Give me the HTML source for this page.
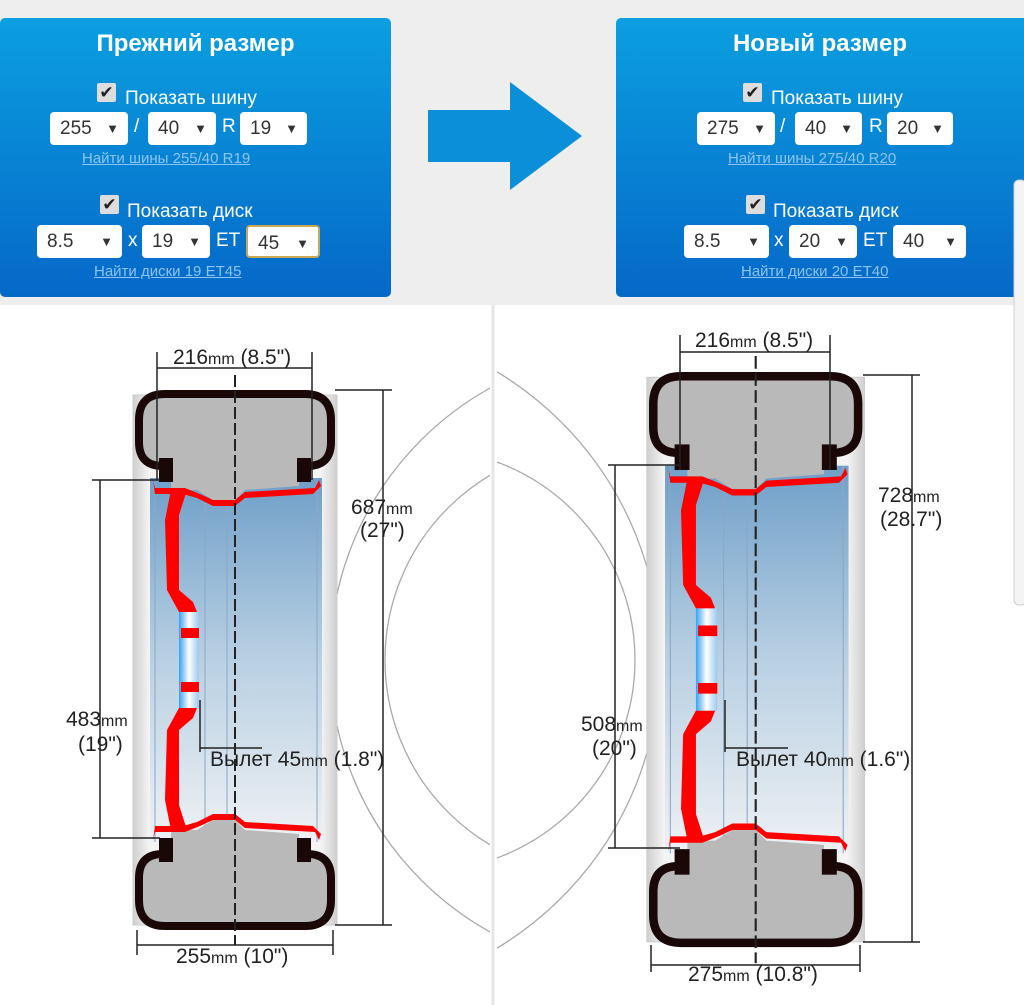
<!DOCTYPE html>
<html><head><meta charset="utf-8"><style>
body{margin:0;width:1024px;height:1005px;overflow:hidden;background:#fff;font-family:"Liberation Sans",sans-serif;position:relative}
.top{position:absolute;left:0;top:0;width:1024px;height:305px;background:#eeeeee}
.panel{position:absolute;top:18px;height:279px;border-radius:5px;background:linear-gradient(#0b9fe0,#0568c8);color:#fff;text-align:center}
.t{position:absolute;left:0;right:0;top:30px;font-weight:bold;font-size:24px}
.ab{position:absolute;font-size:19px;white-space:nowrap}
.cb{position:absolute;width:19px;height:19px;background:#ddd;border-radius:2px;color:#222;font-size:17px;line-height:19px;text-align:center}
.sel{position:absolute;height:33px;background:#fff;border-radius:4px;color:#333;font-size:19px;line-height:33px;text-align:left;box-sizing:border-box;padding-left:10px}
.sel i{position:absolute;right:9px;top:0;font-style:normal;font-size:13px}
.lk{position:absolute;font-size:15px;color:#8cc4f0;text-decoration:underline;white-space:nowrap}
</style></head><body>
<div class="top"></div>
<div class="panel" style="left:0;width:391px">
<div class="t" style="top:12px">Прежний размер</div>
<div class="cb" style="left:97px;top:65px">✔</div><div class="ab" style="left:125px;top:70px">Показать шину</div>
<div class="sel" style="left:50px;top:94px;width:78px">255<i>▼</i></div><div class="ab" style="left:134px;top:98px">/</div>
<div class="sel" style="left:148px;top:94px;width:68px">40<i>▼</i></div><div class="ab" style="left:222px;top:98px">R</div>
<div class="sel" style="left:240px;top:94px;width:67px">19<i>▼</i></div>
<div class="lk" style="left:82px;top:132px">Найти шины 255/40 R19</div>
<div class="cb" style="left:100px;top:177px">✔</div><div class="ab" style="left:127px;top:183px">Показать диск</div>
<div class="sel" style="left:37px;top:207px;width:85px">8.5<i>▼</i></div><div class="ab" style="left:128px;top:212px">x</div>
<div class="sel" style="left:142px;top:207px;width:68px">19<i>▼</i></div><div class="ab" style="left:216px;top:212px">ET</div>
<div class="sel" style="left:246px;top:207px;width:74px;border:2px solid #c8a850">45<i>▼</i></div>
<div class="lk" style="left:94px;top:245px">Найти диски 19 ET45</div>
</div>
<div class="panel" style="left:616px;width:420px">
<div class="t" style="top:12px;right:12px">Новый размер</div>
<div class="cb" style="left:127px;top:65px">✔</div><div class="ab" style="left:155px;top:70px">Показать шину</div>
<div class="sel" style="left:81px;top:94px;width:78px">275<i>▼</i></div><div class="ab" style="left:164px;top:98px">/</div>
<div class="sel" style="left:179px;top:94px;width:67px">40<i>▼</i></div><div class="ab" style="left:253px;top:98px">R</div>
<div class="sel" style="left:271px;top:94px;width:66px">20<i>▼</i></div>
<div class="lk" style="left:112px;top:132px">Найти шины 275/40 R20</div>
<div class="cb" style="left:130px;top:177px">✔</div><div class="ab" style="left:157px;top:183px">Показать диск</div>
<div class="sel" style="left:68px;top:207px;width:85px">8.5<i>▼</i></div><div class="ab" style="left:158px;top:212px">x</div>
<div class="sel" style="left:173px;top:207px;width:68px">20<i>▼</i></div><div class="ab" style="left:247px;top:212px">ET</div>
<div class="sel" style="left:277px;top:207px;width:73px">40<i>▼</i></div>
<div class="lk" style="left:125px;top:245px">Найти диски 20 ET40</div>
</div>
<svg style="position:absolute;left:0;top:0" width="1024" height="1005">
<defs>
<linearGradient id="cyl" x1="0" x2="1"><stop offset="0" stop-color="#cfcfcf"/><stop offset=".08" stop-color="#f4f4f4"/><stop offset=".92" stop-color="#f4f4f4"/><stop offset="1" stop-color="#cfcfcf"/></linearGradient>
<linearGradient id="blu" x1="0" y1="0" x2="0" y2="1"><stop offset="0" stop-color="#6f9fc8"/><stop offset=".5" stop-color="#b9d0e3"/><stop offset="1" stop-color="#eef1f4"/></linearGradient>
<linearGradient id="hub" x1="0" x2="1"><stop offset="0" stop-color="#3aa0f0"/><stop offset=".5" stop-color="#ffffff"/><stop offset="1" stop-color="#9cc8ee"/></linearGradient>
<clipPath id="cl"><rect x="0" y="305" width="490" height="700"/></clipPath>
<clipPath id="cr"><rect x="497" y="305" width="527" height="700"/></clipPath>
<g id="wheel">
<rect x="-2" y="5" width="204" height="530" fill="url(#cyl)" stroke="#ccc"/>
<rect x="15" y="88" width="172" height="364" fill="url(#blu)"/>
<g stroke="#8aa8c4" stroke-width="1" fill="none"><line x1="20" y1="88" x2="20" y2="452"/><line x1="182" y1="88" x2="182" y2="452"/><line x1="70" y1="88" x2="70" y2="452"/><line x1="92" y1="88" x2="92" y2="452"/></g>
<path d="M4,30 Q4,4 30,4 H170 Q196,4 196,30 V52 Q196,76 172,76 H164 V96 L110,100 L100,110 L78,110 L62,100 H36 V76 H28 Q4,76 4,52Z" fill="#b9b9b9"/>
<path d="M4,510 Q4,536 30,536 H170 Q196,536 196,510 V488 Q196,464 172,464 H164 V444 L110,440 L100,430 L78,430 L62,440 H36 V464 H28 Q4,464 4,488Z" fill="#b9b9b9"/>
<path d="M30,76 H28 Q4,76 4,52 V30 Q4,4 30,4 H170 Q196,4 196,30 V52 Q196,76 172,76 H170" fill="none" stroke="#1a0808" stroke-width="8"/>
<path d="M30,464 H28 Q4,464 4,488 V510 Q4,536 30,536 H170 Q196,536 196,510 V488 Q196,464 172,464 H170" fill="none" stroke="#1a0808" stroke-width="8"/>
<rect x="24" y="68" width="14" height="24" fill="#1a0808"/><rect x="162" y="68" width="14" height="24" fill="#1a0808"/>
<rect x="24" y="448" width="14" height="24" fill="#1a0808"/><rect x="162" y="448" width="14" height="24" fill="#1a0808"/>
<path d="M18,90 L20,98 L36,98 L50,98 L65,104 L78,110 L100,110 L110,102 L180,98 L184,90 L186,96 L178,104 L110,108 L100,116 L78,116 L62,108 L48,104 L20,104Z" fill="#f00"/>
<path d="M18,450 L20,442 L36,442 L50,442 L65,436 L78,430 L100,430 L110,438 L180,442 L184,450 L186,444 L178,436 L110,432 L100,424 L78,424 L62,432 L48,436 L20,436Z" fill="#f00"/>
<path d="M36,100 L52,100 L44,125 L44,200 L58,212 L62,222 L44,222 L32,200 L30,130Z" fill="#f00"/>
<path d="M36,440 L52,440 L44,415 L44,340 L58,328 L62,318 L44,318 L32,340 L30,410Z" fill="#f00"/>
<rect x="44" y="222" width="20" height="96" fill="url(#hub)"/>
<rect x="46" y="238" width="18" height="10" fill="#f00"/><rect x="46" y="292" width="18" height="10" fill="#f00"/>
<line x1="100" y1="-15" x2="100" y2="555" stroke="#222" stroke-width="2" stroke-dasharray="12,4"/>
</g>
</defs>
<polygon points="428,110 510,110 510,82 582,136 510,190 510,162 428,162" fill="#0a8fd8"/>
<line x1="493" y1="305" x2="493" y2="1005" stroke="#e6e6e6" stroke-width="3"/>
<rect x="1014" y="180" width="12" height="425" rx="5" fill="#f4f4f4" stroke="#ccc"/>
<g fill="none" stroke="#aaa" stroke-width="1.3">
<circle cx="641" cy="660" r="311" clip-path="url(#cl)"/>
<circle cx="600" cy="660" r="215" clip-path="url(#cl)"/>
<circle cx="324" cy="660" r="336" clip-path="url(#cr)"/>
<circle cx="424" cy="660" r="211" clip-path="url(#cr)"/>
</g>
<use href="#wheel" transform="translate(135,390)"/>
<use href="#wheel" transform="translate(649,372) scale(1.067,1.065)"/>
<g stroke="#222" stroke-width="1.5" fill="none">
<line x1="157" y1="352" x2="157" y2="480"/><line x1="312" y1="352" x2="312" y2="480"/><line x1="157" y1="368" x2="312" y2="368"/>
<line x1="335" y1="390" x2="392" y2="390"/><line x1="383" y1="390" x2="383" y2="925"/><line x1="335" y1="925" x2="392" y2="925"/>
<line x1="92" y1="480" x2="160" y2="480"/><line x1="100" y1="480" x2="100" y2="838"/><line x1="92" y1="838" x2="160" y2="838"/>
<line x1="137" y1="930" x2="137" y2="955"/><line x1="333" y1="930" x2="333" y2="955"/><line x1="137" y1="945" x2="333" y2="945"/>
<line x1="200" y1="748" x2="262" y2="748"/><line x1="200" y1="700" x2="200" y2="752"/>
<line x1="680" y1="335" x2="680" y2="470"/><line x1="830" y1="335" x2="830" y2="470"/><line x1="680" y1="352" x2="830" y2="352"/>
<line x1="863" y1="375" x2="920" y2="375"/><line x1="912" y1="375" x2="912" y2="942"/><line x1="863" y1="942" x2="920" y2="942"/>
<line x1="608" y1="465" x2="680" y2="465"/><line x1="615" y1="465" x2="615" y2="848"/><line x1="608" y1="848" x2="680" y2="848"/>
<line x1="651" y1="945" x2="651" y2="972"/><line x1="860" y1="945" x2="860" y2="972"/><line x1="651" y1="965" x2="860" y2="965"/>
<line x1="725" y1="748" x2="788" y2="748"/><line x1="725" y1="700" x2="725" y2="752"/>
</g>
<g font-family="Liberation Sans, sans-serif" font-size="21" fill="#222">
<text x="173" y="364">216<tspan font-size="16">mm</tspan> (8.5")</text>
<text x="351" y="514">687<tspan font-size="16">mm</tspan></text><text x="360" y="537">(27")</text>
<text x="66" y="726">483<tspan font-size="16">mm</tspan></text><text x="78" y="751">(19")</text>
<text x="210" y="766">Вылет 45<tspan font-size="16">mm</tspan> (1.8")</text>
<text x="176" y="963">255<tspan font-size="16">mm</tspan> (10")</text>
<text x="695" y="347">216<tspan font-size="16">mm</tspan> (8.5")</text>
<text x="878" y="502">728<tspan font-size="16">mm</tspan></text><text x="880" y="526">(28.7")</text>
<text x="581" y="731">508<tspan font-size="16">mm</tspan></text><text x="592" y="755">(20")</text>
<text x="736" y="766">Вылет 40<tspan font-size="16">mm</tspan> (1.6")</text>
<text x="688" y="981">275<tspan font-size="16">mm</tspan> (10.8")</text>
</g>
</svg>
</body></html>
